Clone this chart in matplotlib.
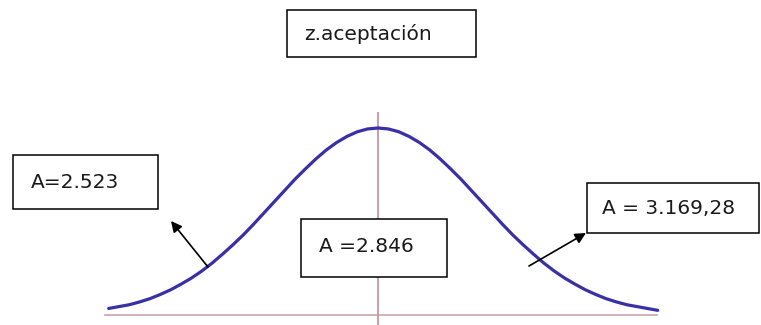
import matplotlib

matplotlib.use("Agg")
import matplotlib.pyplot as plt
from matplotlib.patches import Rectangle

z_vals = [-2.6, -2.5, -2.4, -2.3, -2.2, -2.1, -2.0, -1.9, -1.8, -1.7,
          -1.6, -1.5, -1.4, -1.3, -1.2, -1.1, -1.0, -0.9, -0.8, -0.7,
          -0.6, -0.5, -0.4, -0.3, -0.2, -0.1, 0.0, 0.1, 0.2, 0.3,
          0.4, 0.5, 0.6, 0.7, 0.8, 0.9, 1.0, 1.1, 1.2, 1.3,
          1.4, 1.5, 1.6, 1.7, 1.8, 1.9, 2.0, 2.1, 2.2, 2.3,
          2.4, 2.5, 2.6, 2.7]
density = [0.014, 0.018, 0.022, 0.028, 0.035, 0.044, 0.054, 0.066, 0.079, 0.094,
           0.111, 0.130, 0.150, 0.171, 0.194, 0.218, 0.242, 0.266, 0.290, 0.312,
           0.333, 0.352, 0.368, 0.381, 0.391, 0.397, 0.399, 0.397, 0.391, 0.381,
           0.368, 0.352, 0.333, 0.312, 0.290, 0.266, 0.242, 0.218, 0.194, 0.171,
           0.150, 0.130, 0.111, 0.094, 0.079, 0.066, 0.054, 0.044, 0.035, 0.028,
           0.022, 0.018, 0.014, 0.010]

axis_span = (-2.64, 2.69)
center_top = 0.431

title = "z.aceptación"
area_labels = ["A=2.523", "A =2.846", "A = 3.169,28"]

CURVE = "#3a30a6"
AXIS = "#c8a2ad"

fig = plt.figure(figsize=(7.61, 3.25), dpi=100)

# data axes for the curve and the z axis
ax = fig.add_axes([0, 0, 1, 1])
ax.set_xlim(-3.649, 3.697)
ax.set_ylim(-0.0213, 0.6721)
ax.axis("off")
ax.plot(list(axis_span), [0, 0], color=AXIS, lw=1.2, zorder=1)
ax.plot([0, 0], [-0.0213, center_top], color=AXIS, lw=1.5, zorder=1)
ax.plot(z_vals, density, color=CURVE, lw=2.3, solid_capstyle="round", zorder=2)

# overlay in pixel units for the labelled boxes
ov = fig.add_axes([0, 0, 1, 1])
ov.set_xlim(0, 761)
ov.set_ylim(325, 0)
ov.axis("off")
ov.patch.set_alpha(0)

boxes = [
    ((287, 10, 189, 47), title, 304, 34),
    ((13, 155, 145, 54), area_labels[0], 31, 182),
    ((301, 219, 146, 58), area_labels[1], 319, 246),
    ((587, 183, 172, 50), area_labels[2], 602, 208),
]
for (x, y, w, h), txt, tx, ty in boxes:
    ov.add_patch(Rectangle((x, y), w, h, facecolor="white", edgecolor="black",
                           lw=1.1, zorder=3))
    ov.text(tx, ty, txt, fontsize=14.5, color="#1a1a1a", ha="left", va="center",
            family="DejaVu Sans", zorder=4)

arrow = dict(arrowstyle="-|>", color="black", lw=1.2, mutation_scale=16,
             shrinkA=0, shrinkB=0)
ov.annotate("", xy=(171, 221), xytext=(208, 267), arrowprops=arrow, zorder=5)
ov.annotate("", xy=(586, 233), xytext=(529, 266), arrowprops=arrow, zorder=5)

fig.savefig("out.png", dpi=100)
